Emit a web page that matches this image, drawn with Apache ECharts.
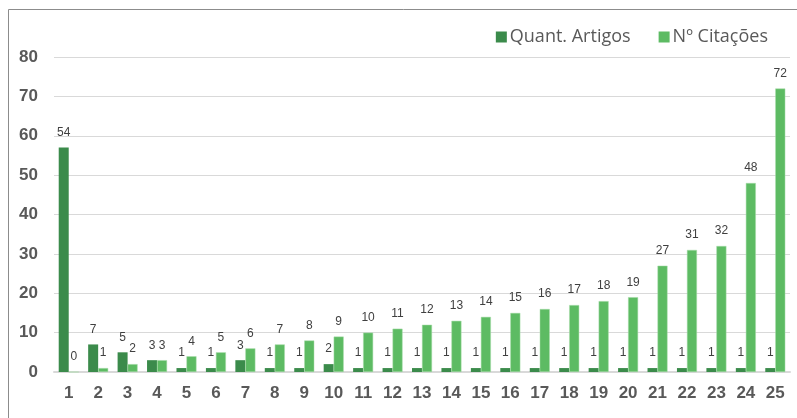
<!DOCTYPE html>
<html>
<head>
<meta charset="utf-8">
<script src="https://cdn.jsdelivr.net/npm/echarts@6/dist/echarts.min.js"></script>
<style>
  html, body { margin: 0; padding: 0; background: #fff; }
  #chart { width: 797px; height: 418px; }
</style>
</head>
<body>
<div id="chart"></div>
<script>
  // categorias e valores
  const categories = ['1', '2', '3', '4', '5', '6', '7', '8', '9', '10', '11', '12', '13',
    '14', '15', '16', '17', '18', '19', '20', '21', '22', '23', '24', '25']
  const artigos = [57, 7, 5, 3, 1, 1, 3, 1, 1, 2, 1, 1, 1, 1, 1, 1, 1, 1, 1, 1, 1, 1, 1, 1, 1]
  const artigosLabels = ['54', '7', '5', '3', '1', '1', '3', '1', '1', '2', '1', '1', '1',
    '1', '1', '1', '1', '1', '1', '1', '1', '1', '1', '1', '1']
  const citacoes = [0, 1, 2, 3, 4, 5, 6, 7, 8, 9, 10, 11, 12, 13, 14, 15, 16, 17, 18, 19, 27, 31, 32, 48, 72]
  const yTicks = [0, 10, 20, 30, 40, 50, 60, 70, 80]

  const labelFont = '"Liberation Sans", sans-serif'
  const axisFont = '"Liberation Sans", sans-serif'

  const chart = echarts.init(document.getElementById('chart'))
  chart.setOption({
    animation: false,
    graphic: [{
      type: 'rect',
      shape: { x: 8.5, y: 9.5, width: 800, height: 420 },
      style: { fill: 'none', stroke: '#8c8c8c', lineWidth: 1 }
    }],
    legend: {
      right: 24,
      top: 23,
      itemWidth: 11,
      itemHeight: 11,
      itemGap: 28,
      icon: 'rect',
      itemStyle: { borderWidth: 0 },
      textStyle: { fontSize: 18, color: '#595959', fontFamily: '"Open Sans", sans-serif', padding: [0, 0, 0, -2] },
      data: ['Quant. Artigos', 'Nº Citações']
    },
    grid: { left: 54, right: 7, top: 57, bottom: 46 },
    xAxis: {
      type: 'category',
      data: categories,
      axisTick: { show: false },
      axisLine: { lineStyle: { color: '#d9d9d9', width: 2 } },
      axisLabel: {
        fontSize: 17, fontWeight: 'bold', color: '#595959', fontFamily: axisFont, margin: 13
      }
    },
    yAxis: {
      type: 'value',
      min: yTicks[0],
      max: yTicks[yTicks.length - 1],
      interval: 10,
      axisLine: { show: false },
      axisTick: { show: false },
      splitLine: { lineStyle: { color: '#d9d9d9', width: 1 } },
      axisLabel: {
        fontSize: 17, fontWeight: 'bold', color: '#595959', fontFamily: axisFont, margin: 16
      }
    },
    series: [
      {
        name: 'Quant. Artigos',
        type: 'bar',
        data: artigos,
        barWidth: 10,
        barGap: '0%',
        itemStyle: { color: '#3b8b4b' },
        label: {
          show: true,
          position: 'top',
          distance: 9,
          fontSize: 12,
          color: '#404040',
          fontFamily: labelFont,
          formatter: (p) => artigosLabels[p.dataIndex]
        }
      },
      {
        name: 'Nº Citações',
        type: 'bar',
        data: citacoes,
        barWidth: 10,
        itemStyle: { color: '#5dbb63', borderColor: '#a8dcab', borderWidth: 0.5 },
        label: {
          show: true,
          position: 'top',
          distance: 9,
          fontSize: 12,
          color: '#404040',
          fontFamily: labelFont
        }
      }
    ]
  })
</script>
</body>
</html>
